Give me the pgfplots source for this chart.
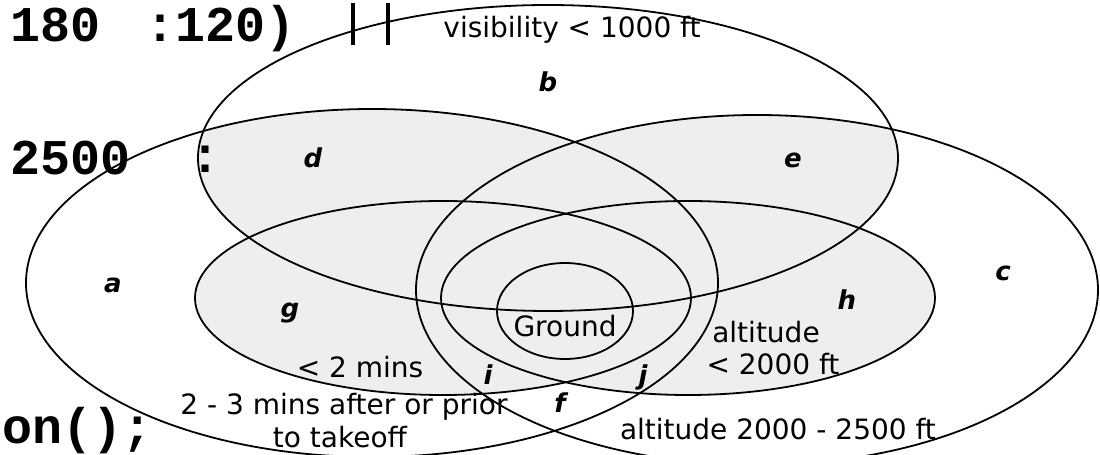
\documentclass[border=0pt]{standalone}
\usepackage{pgfplots}
\pgfplotsset{compat=1.18}
\usepackage{fontspec}
\setmainfont{DejaVu Sans}
\newfontfamily\codefont{Liberation Mono}
\definecolor{lightfill}{HTML}{EEEEEE}
\begin{document}
\begin{tikzpicture}
\path[use as bounding box] (0,0) rectangle (550pt,227.5pt);
\clip (0,0) rectangle (550pt,227.5pt);
\begin{axis}[
  width=550pt, height=227.5pt, scale only axis,
  xmin=0, xmax=1100, ymin=0, ymax=455,
  hide axis, clip=false,
]
% shaded regions
\fill[lightfill] (axis cs:443,157) ellipse [x radius=248, y radius=97];
\fill[lightfill] (axis cs:688,157) ellipse [x radius=247, y radius=97];
\begin{scope}
\clip (axis cs:548,297) ellipse [x radius=350, y radius=153];
\fill[lightfill] (axis cs:372,172) ellipse [x radius=346, y radius=174];
\fill[lightfill] (axis cs:757,165) ellipse [x radius=341, y radius=175];
\end{scope}
% outlines
\begin{scope}[line width=0.9pt, black]
\draw (axis cs:372,172) ellipse [x radius=346, y radius=174];
\draw (axis cs:757,165) ellipse [x radius=341, y radius=175];
\draw (axis cs:548,297) ellipse [x radius=350, y radius=153];
\draw (axis cs:443,157) ellipse [x radius=248, y radius=97];
\draw (axis cs:688,157) ellipse [x radius=247, y radius=97];
\draw (axis cs:565,144) ellipse [x radius=68, y radius=48];
\end{scope}
% background code fragments
\draw[line width=2pt] (axis cs:353,410) -- (axis cs:353,452);
\draw[line width=2pt] (axis cs:388,410) -- (axis cs:388,452);
\node[anchor=base west, inner sep=0pt, font=\codefont\bfseries\fontsize{25}{25}\selectfont] at (axis cs:10,413) {180};
\node[anchor=base west, inner sep=0pt, font=\codefont\bfseries\fontsize{25}{25}\selectfont] at (axis cs:145,413) {:120)};
\node[anchor=base west, inner sep=0pt, font=\codefont\bfseries\fontsize{25}{25}\selectfont] at (axis cs:10,280) {2500};
\node[anchor=base west, inner sep=0pt, font=\codefont\bfseries\fontsize{25}{25}\selectfont] at (axis cs:190,282) {:};
\node[anchor=base west, inner sep=0pt, font=\codefont\bfseries\fontsize{25}{25}\selectfont] at (axis cs:2,11) {on();};
% descriptive labels
\begin{scope}[every node/.style={anchor=base, inner sep=0pt, font=\fontsize{14}{14}\selectfont}]
\node at (axis cs:572,417) {visibility < 1000 ft};
\node at (axis cs:565,118) {Ground};
\node at (axis cs:360,77) {< 2 mins};
\node at (axis cs:766,112) {altitude};
\node at (axis cs:773,80) {< 2000 ft};
\node at (axis cs:344,40) {2 - 3 mins after or prior};
\node at (axis cs:340,7) {to takeoff};
\node at (axis cs:778,15) {altitude 2000 - 2500 ft};
\end{scope}
% region letters
\begin{scope}[every node/.style={anchor=base, inner sep=0pt, font=\bfseries\itshape\fontsize{13}{13}\selectfont}]
\node at (axis cs:113,162) {a};
\node at (axis cs:548,363) {b};
\node at (axis cs:1003,174) {c};
\node at (axis cs:313,287) {d};
\node at (axis cs:793,287) {e};
\node at (axis cs:560,42) {f};
\node at (axis cs:290,137) {g};
\node at (axis cs:847,145) {h};
\node at (axis cs:488,70) {i};
\node at (axis cs:643,70) {j};
\end{scope}
\end{axis}
\end{tikzpicture}
\end{document}
